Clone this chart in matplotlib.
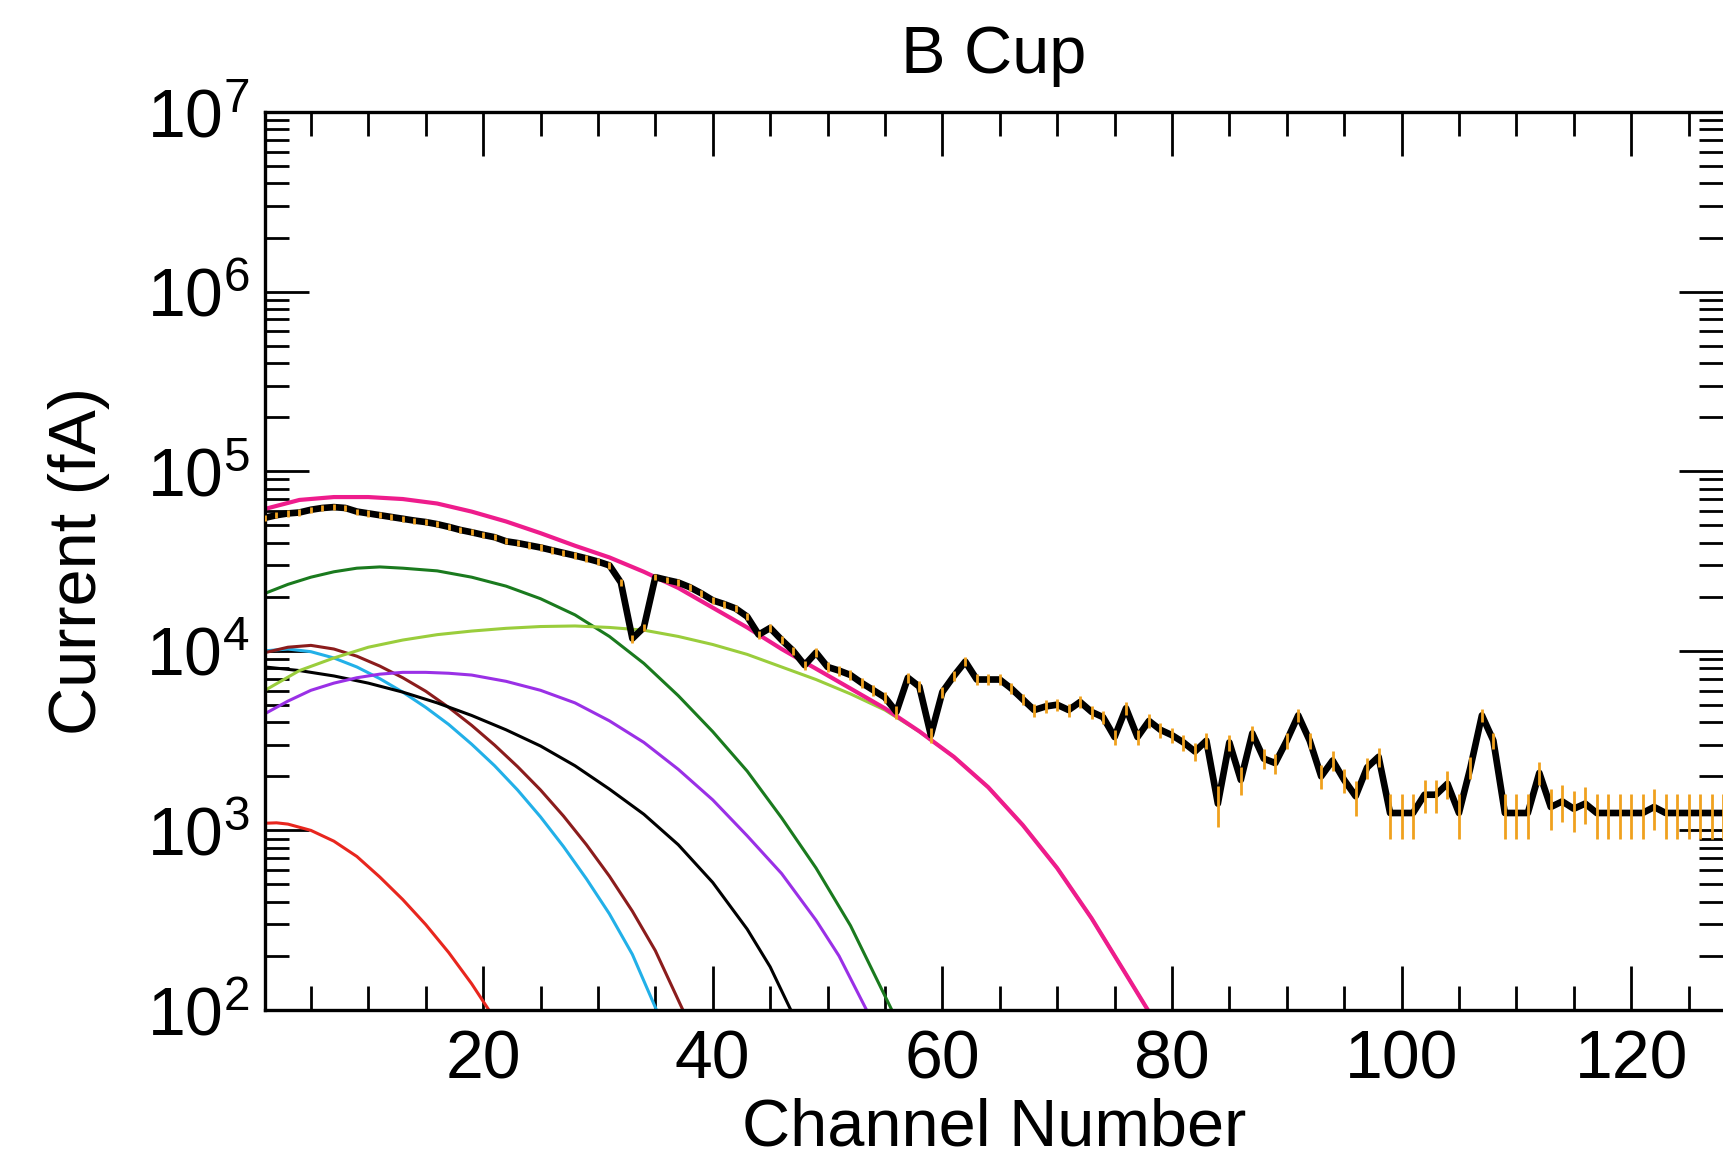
import numpy as np
import matplotlib
matplotlib.use("Agg")
import matplotlib.pyplot as plt
from matplotlib.ticker import MultipleLocator, LogLocator, FuncFormatter, NullFormatter

# measured current per channel (fA)
channel = np.arange(1, 129)
current = [
    5.50e4, 5.69e4, 5.82e4, 5.89e4, 6.10e4, 6.24e4, 6.31e4, 6.24e4, 5.96e4, 5.82e4,
    5.69e4, 5.56e4, 5.43e4, 5.31e4, 5.21e4, 5.07e4, 4.90e4, 4.71e4, 4.57e4, 4.42e4,
    4.29e4, 4.07e4, 3.98e4, 3.87e4, 3.76e4, 3.63e4, 3.51e4, 3.39e4, 3.27e4, 3.14e4,
    2.99e4, 2.40e4, 1.17e4, 1.35e4, 2.57e4, 2.48e4, 2.40e4, 2.26e4, 2.09e4, 1.91e4,
    1.82e4, 1.72e4, 1.55e4, 1.23e4, 1.34e4, 1.15e4, 1.00e4, 8.32e3, 9.77e3, 8.13e3,
    7.76e3, 7.33e3, 6.61e3, 6.03e3, 5.50e3, 4.57e3, 7.08e3, 6.31e3, 3.39e3, 5.89e3,
    7.24e3, 8.71e3, 6.92e3, 6.92e3, 6.92e3, 6.17e3, 5.37e3, 4.68e3, 4.90e3, 5.01e3,
    4.68e3, 5.19e3, 4.57e3, 4.27e3, 3.31e3, 4.79e3, 3.31e3, 4.07e3, 3.63e3, 3.39e3,
    3.09e3, 2.75e3, 3.16e3, 1.41e3, 3.09e3, 1.91e3, 3.47e3, 2.51e3, 2.37e3, 3.16e3,
    4.37e3, 3.16e3, 2.00e3, 2.45e3, 1.91e3, 1.55e3, 2.24e3, 2.57e3, 1.25e3, 1.25e3,
    1.25e3, 1.58e3, 1.58e3, 1.82e3, 1.25e3, 2.24e3, 4.37e3, 3.16e3, 1.25e3, 1.25e3,
    1.25e3, 2.09e3, 1.35e3, 1.45e3, 1.32e3, 1.41e3, 1.25e3, 1.25e3, 1.25e3, 1.25e3,
    1.25e3, 1.35e3, 1.25e3, 1.25e3, 1.25e3, 1.25e3, 1.25e3, 1.25e3,
]
current_err = [
    2200, 2200, 2300, 2300, 2300, 2400, 2400, 2400, 2300, 2300,
    2200, 2200, 2100, 2100, 2000, 2000, 1900, 1900, 1800, 1800,
    1700, 1600, 1600, 1600, 1500, 1500, 1400, 1400, 1300, 1300,
    1200, 1000, 600, 650, 1000, 1000, 1000, 950, 900, 850,
    800, 750, 700, 600, 650, 600, 550, 500, 550, 500,
    480, 460, 440, 420, 400, 380, 480, 450, 330, 430,
    480, 520, 470, 470, 470, 440, 410, 380, 390, 400,
    380, 400, 380, 370, 330, 390, 330, 360, 340, 330,
    320, 310, 320, 360, 320, 340, 330, 320, 310, 320,
    360, 320, 300, 310, 300, 340, 300, 310, 350, 350,
    350, 330, 330, 320, 350, 310, 360, 320, 350, 350,
    350, 310, 340, 330, 340, 330, 350, 350, 350, 350,
    350, 340, 350, 350, 350, 350, 350, 350,
]

# fitted components, sampled along the channel axis (fA)
red_ch = [1, 2, 3, 5, 7, 9, 11, 13, 15, 17, 19, 20.5]
red_val = [1096, 1102, 1084, 1000, 871, 716, 550, 412, 299, 209, 140, 100]

cyan_ch = [1, 3, 5, 7, 9, 11, 13, 15, 17, 19, 21, 23, 25, 27, 29, 31, 33, 35.1]
cyan_val = [10000, 10230, 9886, 9120, 8128, 6998, 5888, 4842, 3890, 3020,
            2291, 1679, 1189, 813, 537, 343, 204, 100]

brown_ch = [1, 3, 5, 7, 9, 11, 13, 15, 17, 19, 21, 23, 25, 27, 29, 31, 33, 35, 37.4]
brown_val = [9772, 10470, 10720, 10230, 9333, 8222, 7079, 5957, 4842, 3846,
             2985, 2265, 1679, 1202, 832, 556, 355, 214, 100]

black_ch = [1, 4, 7, 10, 13, 16, 19, 22, 25, 28, 31, 34, 37, 40, 43, 45, 46.8]
black_val = [8128, 7762, 7244, 6607, 5888, 5129, 4365, 3631, 2951, 2291,
             1698, 1230, 832, 513, 282, 174, 100]

purple_ch = [1, 3, 5, 7, 9, 11, 13, 15, 17, 19, 22, 25, 28, 31, 34, 37, 40, 43,
             46, 49, 51, 53.4]
purple_val = [4467, 5248, 6026, 6607, 7079, 7413, 7586, 7586, 7499, 7328, 6761,
              6026, 5129, 4074, 3090, 2188, 1479, 933, 575, 316, 200, 100]

dkgreen_ch = [1, 3, 5, 7, 9, 11, 13, 16, 19, 22, 25, 28, 31, 34, 37, 40, 43, 46,
              49, 52, 55.6]
dkgreen_val = [20890, 23440, 25700, 27540, 28840, 29310, 28840, 27860, 25700,
               22910, 19500, 15850, 12020, 8511, 5623, 3548, 2138, 1175, 617, 295, 100]

ltgreen_ch = [1, 4, 7, 10, 13, 16, 19, 22, 25, 28, 31, 34, 37, 40, 43, 46, 49, 52,
              55, 58, 61, 64, 67, 70, 73, 76, 77.9]
ltgreen_val = [6026, 7762, 9120, 10470, 11480, 12300, 12880, 13340, 13650, 13750,
               13490, 13030, 12020, 10840, 9550, 8128, 6918, 5754, 4677, 3548,
               2570, 1738, 1072, 617, 324, 158, 100]

total_ch = [1, 4, 7, 10, 13, 16, 19, 22, 25, 28, 31, 34, 37, 40, 43, 46, 49, 52,
            55, 58, 61, 64, 67, 70, 73, 76, 77.9]
total_val = [61660, 69180, 71780, 71780, 69980, 66070, 59570, 52480, 45190, 38460,
             33110, 27540, 22390, 17380, 13490, 10230, 7943, 6166, 4780, 3560,
             2570, 1738, 1072, 617, 324, 158, 100]

plt.rcParams['font.family'] = ['Liberation Sans', 'DejaVu Sans']
plt.rcParams['mathtext.fontset'] = 'custom'
plt.rcParams['mathtext.rm'] = 'Liberation Sans'

W, H = 1723, 1159
fig = plt.figure(figsize=(W / 100, H / 100), dpi=100)
ax = fig.add_axes([265 / W, 1 - 1010 / H, 1 - 265 / W, (1010 - 112) / H])

lw = 2.2
ax.plot(red_ch, red_val, color='#e8261e', lw=lw)
ax.plot(cyan_ch, cyan_val, color='#22b0e8', lw=lw)
ax.plot(brown_ch, brown_val, color='#8b1c1c', lw=lw)
ax.plot(black_ch, black_val, color='black', lw=lw)
ax.plot(purple_ch, purple_val, color='#9a30e6', lw=lw)
ax.plot(dkgreen_ch, dkgreen_val, color='#1a7a1e', lw=lw)
ax.plot(ltgreen_ch, ltgreen_val, color='#9acd3c', lw=lw)
ax.plot(total_ch, total_val, color='#ee1c8c', lw=3.0)

ax.plot(channel, current, color='black', lw=4.8, zorder=4)
ax.errorbar(channel, current, yerr=current_err, fmt='none', ecolor='#f0a11e',
            elinewidth=2.0, capsize=0, zorder=5)

ax.set_yscale('log')
ax.set_xlim(1, 128)
ax.set_ylim(1e2, 1e7)

ax.xaxis.set_major_locator(MultipleLocator(20))
ax.xaxis.set_minor_locator(MultipleLocator(5))
ax.yaxis.set_major_locator(LogLocator(base=10, numticks=10))
ax.yaxis.set_minor_locator(LogLocator(base=10, subs=np.arange(2, 10), numticks=10))
ax.yaxis.set_minor_formatter(NullFormatter())
ax.yaxis.set_major_formatter(FuncFormatter(lambda v, p: r'$\mathregular{10^{%d}}$' % round(np.log10(v))))

ax.tick_params(which='both', direction='in', top=True, right=True, width=2.0,
               labelsize=49, color='black')
ax.tick_params(which='major', length=32, pad=13)
ax.tick_params(which='minor', length=17)
ax.tick_params(axis='y', which='major', pad=11)
for s in ['left', 'bottom', 'top']:
    ax.spines[s].set_linewidth(2.4)
ax.spines['right'].set_visible(False)

ax.set_xlabel('Channel Number', fontsize=48, labelpad=4)
ax.set_ylabel('Current (fA)', fontsize=48, labelpad=26)
ax.set_title('B Cup', fontsize=48, pad=28)

fig.savefig('out.png', dpi=100)
